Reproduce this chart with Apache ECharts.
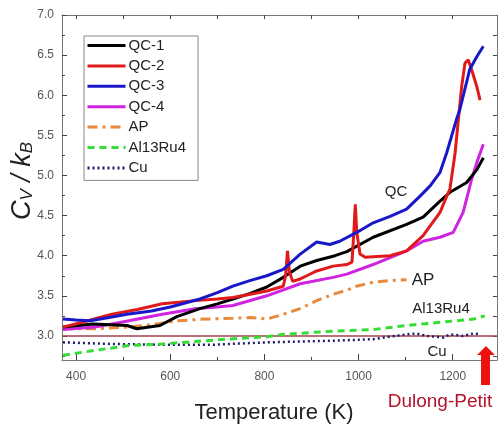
<!DOCTYPE html>
<html><head><meta charset="utf-8">
<script src="https://cdn.jsdelivr.net/npm/echarts@6/dist/echarts.min.js"></script>
<style>html,body{margin:0;padding:0;background:#fff}#c{width:504px;height:425px}</style>
</head><body><div id="c"></div>
<script>
// ---- data (temperature K, Cv/kB) ----
const qc1 = [[372,3.11],[436,3.15],[508,3.13],[529,3.09],[578,3.13],[614,3.24],[663,3.34],[700,3.40],[733,3.46],[770,3.53],[805,3.61],[840,3.73],[876,3.87],[911,3.94],[950,4.00],[975,4.05],[1031,4.23],[1102,4.39],[1137,4.48],[1173,4.68],[1194,4.79],[1229,4.91],[1251,5.07],[1265,5.22]];
const qc2 = [[372,3.11],[413,3.17],[476,3.27],[530,3.33],[583,3.40],[653,3.44],[700,3.46],[733,3.48],[770,3.52],[805,3.56],[840,3.62],[845,3.75],[849,4.06],[853,3.80],[860,3.68],[876,3.71],[890,3.75],[911,3.81],[946,3.87],[975,3.89],[986,3.92],[990,4.30],[993,4.64],[996,4.30],[1003,4.02],[1014,3.98],[1040,3.99],[1067,4.00],[1102,4.06],[1137,4.25],[1173,4.54],[1187,4.74],[1194,4.83],[1205,5.28],[1212,5.70],[1219,6.11],[1226,6.40],[1233,6.44],[1240,6.32],[1251,6.11],[1258,5.94]];
const qc3 = [[372,3.21],[400,3.20],[430,3.19],[470,3.23],[508,3.27],[560,3.31],[600,3.36],[663,3.46],[700,3.54],[733,3.62],[769,3.69],[805,3.75],[840,3.83],[876,4.02],[911,4.17],[939,4.14],[960,4.18],[996,4.29],[1031,4.41],[1067,4.49],[1102,4.58],[1130,4.74],[1152,4.87],[1173,5.04],[1187,5.28],[1208,5.70],[1215,5.82],[1236,6.32],[1251,6.48],[1265,6.61]];
const qc4 = [[372,3.08],[440,3.11],[512,3.19],[583,3.27],[653,3.34],[700,3.36],[733,3.38],[805,3.50],[876,3.65],[946,3.73],[975,3.77],[1031,3.89],[1102,4.06],[1137,4.18],[1173,4.23],[1201,4.29],[1222,4.54],[1233,4.79],[1240,4.95],[1251,5.16],[1265,5.39]];
const ap = [[372,3.09],[440,3.09],[512,3.11],[547,3.13],[618,3.19],[674,3.21],[733,3.22],[769,3.23],[805,3.21],[840,3.27],[876,3.34],[911,3.44],[946,3.52],[975,3.57],[996,3.62],[1031,3.67],[1067,3.69],[1102,3.70]];
const al13ru4 = [[372,2.76],[440,2.82],[512,2.88],[583,2.90],[653,2.93],[720,2.96],[805,2.99],[840,3.02],[946,3.06],[1031,3.08],[1102,3.13],[1173,3.17],[1244,3.21],[1268,3.25]];
const cu = [[372,2.92],[476,2.90],[583,2.89],[689,2.89],[805,2.92],[946,2.94],[1031,2.96],[1102,3.02],[1123,3.03],[1145,3.00],[1165,2.99],[1180,2.98],[1194,3.02],[1222,3.00],[1244,3.03],[1258,3.02]];
const dulongPetit = [[370,3.0],[1294,3.0]];
const xMajor = [400,600,800,1000,1200];
const xMinor = [500,700,900,1100];
const xTop = [400,500,600,700,800,900,1000,1100,1200];
const yMajor = [3.0,3.5,4.0,4.5,5.0,5.5,6.0,6.5,7.0];
const yMinor = [2.75,3.25,3.75,4.25,4.75,5.25,5.75,6.25,6.75];
const yRight = [2.75,3.0,3.25,3.5,3.75,4.0,4.25,4.5,4.75,5.0,5.25,5.5,5.75,6.0,6.25,6.5,6.75];

const F = 'Liberation Sans, Arial, sans-serif';
const AX = '#777';
const chart = echarts.init(document.getElementById('c'));
function line(name, data, color, width, type, z) {
  return {name, type:'line', data, showSymbol:false, symbol:'none', xAxisIndex:0, yAxisIndex:0,
    lineStyle:{color, width, type}, itemStyle:{color}, z: z||2, animation:false};
}
chart.setOption({
  animation:false,
  grid:{left:62, right:7, top:15, bottom:65},
  xAxis:[
    {type:'value', position:'bottom', min:370, max:1294, axisLine:{show:true, lineStyle:{color:AX}},
     splitLine:{show:false}, axisTick:{inside:true, length:6, customValues:xMajor, lineStyle:{color:'#444'}},
     axisLabel:{customValues:xMajor, color:'#555', fontSize:12, fontFamily:F, margin:11, formatter:v=>String(v)}},
    {type:'value', position:'bottom', min:370, max:1294, axisLine:{show:false}, splitLine:{show:false},
     axisTick:{inside:true, length:3, customValues:xMinor, lineStyle:{color:'#444'}}, axisLabel:{show:false}},
    {type:'value', position:'top', min:370, max:1294, axisLine:{show:true, lineStyle:{color:AX}}, splitLine:{show:false},
     axisTick:{inside:true, length:4, customValues:xTop, lineStyle:{color:'#444'}}, axisLabel:{show:false}}
  ],
  yAxis:[
    {type:'value', position:'left', min:2.7, max:7.0, axisLine:{show:true, lineStyle:{color:AX}}, splitLine:{show:false},
     axisTick:{inside:true, length:5, customValues:yMajor, lineStyle:{color:'#444'}},
     axisLabel:{customValues:yMajor, color:'#555', fontSize:12, fontFamily:F, margin:8, formatter:v=>v.toFixed(1)}},
    {type:'value', position:'left', min:2.7, max:7.0, axisLine:{show:false}, splitLine:{show:false},
     axisTick:{inside:true, length:3, customValues:yMinor, lineStyle:{color:'#444'}}, axisLabel:{show:false}},
    {type:'value', position:'right', min:2.7, max:7.0, axisLine:{show:true, lineStyle:{color:AX}}, splitLine:{show:false},
     axisTick:{inside:true, length:4, customValues:yRight, lineStyle:{color:'#444'}}, axisLabel:{show:false}}
  ],
  legend:{
    orient:'vertical', left:84, top:36, itemWidth:38, itemHeight:14, itemGap:5.4,
    padding:[2,12,5,2], borderColor:'#888', borderWidth:1, backgroundColor:'#fff',
    itemStyle:{opacity:0}, lineStyle:{width:3},
    textStyle:{fontSize:15, color:'#222', fontFamily:F, padding:[0,0,0,-2]},
    data:['QC-1','QC-2','QC-3','QC-4','AP','Al13Ru4','Cu']
  },
  series:[
    line('Dulong-Petit', dulongPetit, '#a0404c', 1.5, 'solid', 1),
    line('Cu', cu, '#1c1c6e', 2.5, [2,3], 2),
    line('Al13Ru4', al13ru4, '#33dd33', 3, [7,5], 2),
    line('AP', ap, '#e8893c', 3, [10,5,3,5], 2),
    line('QC-4', qc4, '#d024e0', 3, 'solid', 3),
    line('QC-1', qc1, '#000000', 3, 'solid', 4),
    line('QC-2', qc2, '#e01a1a', 3, 'solid', 5),
    line('QC-3', qc3, '#1818c8', 3, 'solid', 6)
  ],
  graphic:[
    {type:'text', x:22, y:181, rotation:Math.PI/2, style:{
      text:'{c|C}{s|V}{c| / k}{s|B}', x:0, y:0, align:'center', verticalAlign:'middle', fill:'#222',
      rich:{c:{fontSize:27, fontStyle:'italic', fontFamily:F, fill:'#222'},
            s:{fontSize:17, fontStyle:'italic', fontFamily:F, fill:'#222', verticalAlign:'bottom', padding:[10,0,0,0]}}}},
    {type:'text', x:274, y:413, style:{text:'Temperature (K)', fontSize:22, fontFamily:F, fill:'#222', align:'center', verticalAlign:'middle'}},
    {type:'text', x:440, y:402, style:{text:'Dulong-Petit', fontSize:19, fontFamily:F, fill:'#b3142a', align:'center', verticalAlign:'middle'}},
    {type:'text', x:396, y:192, style:{text:'QC', fontSize:15, fontFamily:F, fill:'#222', align:'center', verticalAlign:'middle'}},
    {type:'text', x:423, y:280, style:{text:'AP', fontSize:17, fontFamily:F, fill:'#222', align:'center', verticalAlign:'middle'}},
    {type:'text', x:441, y:309, style:{text:'Al13Ru4', fontSize:15, fontFamily:F, fill:'#222', align:'center', verticalAlign:'middle'}},
    {type:'text', x:437, y:352, style:{text:'Cu', fontSize:15, fontFamily:F, fill:'#222', align:'center', verticalAlign:'middle'}},
    {type:'polygon', z:100, shape:{points:[[481,355],[477,355],[486,346],[495,355],[490,355],[490,385],[481,385]]}, style:{fill:'#ee1111'}}
  ]
});
</script></body></html>
